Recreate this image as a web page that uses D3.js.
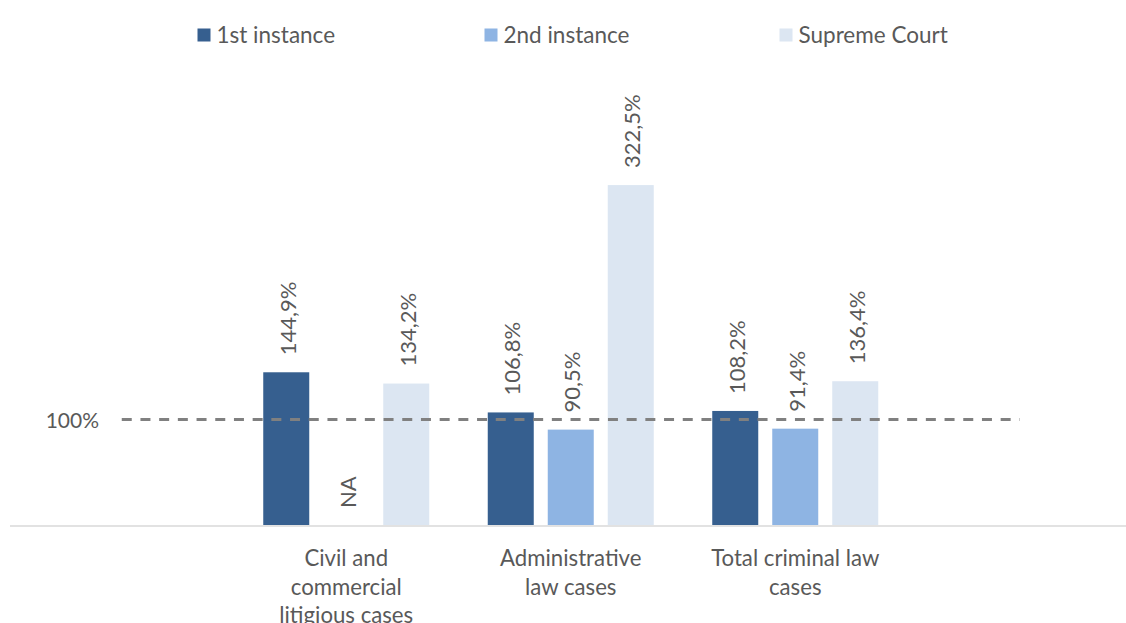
<!DOCTYPE html>
<html>
<head>
<meta charset="utf-8">
<script src="https://cdn.jsdelivr.net/npm/d3@7"></script>
<style>
  html, body { margin: 0; padding: 0; background: #fff; }
  svg { display: block; font-family: Lato, "Open Sans", sans-serif; }
</style>
</head>
<body>
<svg id="chart" width="1126" height="623"></svg>
<script>
// ---- data ----
const categories = ["Civil and commercial litigious cases", "Administrative law cases", "Total criminal law cases"];
const categoryLines = [["Civil and", "commercial", "litigious cases"], ["Administrative", "law cases"], ["Total criminal law", "cases"]];
const seriesNames = ["1st instance", "2nd instance", "Supreme Court"];
const firstInstance = [144.9, 106.8, 108.2];
const secondInstance = [null, 90.5, 91.4];
const supremeCourt = [134.2, 322.5, 136.4];
const referenceValue = 100;
const referenceLabel = "100%";
const naLabel = "NA";
const colors = ["#365F8F", "#8EB4E3", "#DCE6F2"];

const seriesValues = [firstInstance, secondInstance, supremeCourt];

const svg = d3.select("#chart");
const baseY = 525;
const pxPerPct = 1.054;

// outer band scale with empty padding slots at both ends (reference line spans their centres)
const slots = ["__left", ...categories, "__right"];
const x = d3.scaleBand().domain(slots).range([9.5, 9.5 + 5 * 224.5]).padding(0);
const groupW = 166;
const off = (x.bandwidth() - groupW) / 2;
const x1 = d3.scaleBand().domain(seriesNames).range([off, off + groupW]).paddingInner(14 / 60).paddingOuter(0);
const y = d3.scaleLinear().domain([0, 350]).range([baseY, baseY - 350 * pxPerPct]);

const fmt = v => d3.format(".1f")(v).replace(".", ",") + "%";

// axis line
const axis = d3.axisBottom(x).tickValues([]).tickSize(0).tickSizeOuter(0);
const axisG = svg.append("g").attr("transform", `translate(0,${baseY + 0.5})`).call(axis);
axisG.select(".domain").attr("stroke", "#D9D9D9").attr("stroke-width", 1.5);

// bars
const groups = svg.append("g").selectAll("g")
  .data(categories)
  .join("g")
  .attr("transform", d => `translate(${x(d)},0)`);

groups.each(function (cat, ci) {
  const g = d3.select(this);
  seriesNames.forEach((s, si) => {
    const v = seriesValues[si][ci];
    const cx = x1(s) + x1.bandwidth() / 2;
    if (v != null) {
      g.append("rect")
        .attr("x", x1(s))
        .attr("y", y(v))
        .attr("width", x1.bandwidth())
        .attr("height", y(0) - y(v))
        .attr("fill", colors[si]);
    }
    const top = v != null ? y(v) : y(0);
    g.append("text")
      .attr("transform", `translate(${cx + 1},${top - 17}) rotate(-90)`)
      .attr("text-anchor", "start")
      .attr("dominant-baseline", "central")
      .attr("fill", "#595959")
      .attr("font-size", 22)
      .text(v != null ? fmt(v) : naLabel);
  });
});

// reference dashed line between centres of the padding slots
svg.append("line")
  .attr("x1", x("__left") + x.bandwidth() / 2)
  .attr("x2", x("__right") + x.bandwidth() / 2)
  .attr("y1", y(referenceValue))
  .attr("y2", y(referenceValue))
  .attr("stroke", "#808080")
  .attr("stroke-width", 3)
  .attr("stroke-dasharray", "10,8.7");

svg.append("text")
  .attr("x", 99)
  .attr("y", y(referenceValue))
  .attr("text-anchor", "end")
  .attr("dominant-baseline", "central")
  .attr("fill", "#595959")
  .attr("font-size", 21)
  .text(referenceLabel);

// category labels
categories.forEach((c, i) => {
  const t = svg.append("text")
    .attr("text-anchor", "middle")
    .attr("fill", "#595959")
    .attr("font-size", 22.2);
  categoryLines[i].forEach((line, li) => {
    t.append("tspan")
      .attr("x", x(c) + x.bandwidth() / 2)
      .attr("y", 566 + li * 28.5)
      .text(line);
  });
});

// legend
const legendX = [197.5, 484.5, 779.5];
seriesNames.forEach((s, i) => {
  svg.append("rect")
    .attr("x", legendX[i]).attr("y", 28.5)
    .attr("width", 13).attr("height", 13)
    .attr("fill", colors[i]);
  svg.append("text")
    .attr("x", legendX[i] + 19).attr("y", 43.3)
    .attr("fill", "#595959")
    .attr("font-size", 22.5)
    .text(s);
});
</script>
</body>
</html>
